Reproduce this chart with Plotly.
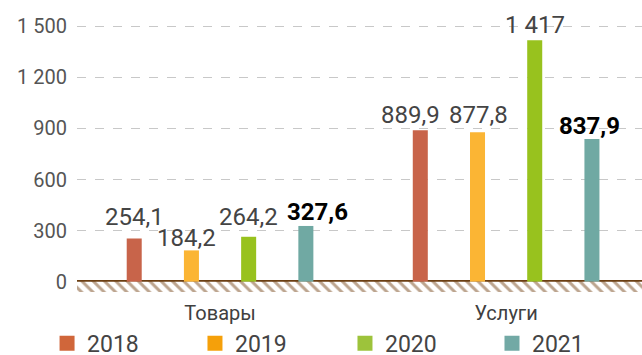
import plotly.graph_objects as go

categories = ["Товары", "Услуги"]
years = ["2018", "2019", "2020", "2021"]
values_2018 = [254.1, 889.9]
values_2019 = [184.2, 877.8]
values_2020 = [264.2, 1417]
values_2021 = [327.6, 837.9]
series = [values_2018, values_2019, values_2020, values_2021]

y_tick_values = [0, 300, 600, 900, 1200, 1500]

bar_colors = ["#C8644A", "#FBB534", "#98C21E", "#70A9A3"]
legend_colors = ["#D0663A", "#F5A00A", "#9DC33B", "#72A9A5"]
legend_x = [-0.053, 0.2088, 0.4743, 0.7345]

# value-label nudges in px (per year, per category) to keep labels apart
label_dx = [[0, -10], [-5, 1], [0, 0], [12, -2]]
label_dy = [[21, 15], [12, 17], [20, 15], [14, 13]]

FONT = "Roboto"
WIDTH, HEIGHT = 642, 355
M_L, M_R, M_T, M_B = 77, 0, 16, 63
X_RANGE = [-0.5, 1.475]
BARGAP = 0.2


def fmt(v):
    # Russian number style: space for thousands, comma for decimals
    if float(v).is_integer():
        return f"{int(v):,}".replace(",", " ")
    return f"{v:,.1f}".replace(",", " ").replace(".", ",")


fig = go.Figure()

# hatched ground strip below the zero line
fig.add_trace(go.Bar(
    x=[0.5], y=[60], base=[-60], width=[1.0],
    xaxis="x2", yaxis="y",
    marker=dict(color="white", line=dict(width=0),
                pattern=dict(shape="\\", fgcolor="#7A4A1E", bgcolor="white",
                             size=8, solidity=0.38)),
    showlegend=False, hoverinfo="skip",
))

for i, (year, vals) in enumerate(zip(years, series)):
    fig.add_trace(go.Bar(
        x=categories, y=vals, name=year,
        marker=dict(color=bar_colors[i], line=dict(width=0)),
        showlegend=False,
    ))

# value labels above each bar of the grouped layout
cat_px = (WIDTH - M_L - M_R) / (X_RANGE[1] - X_RANGE[0])
slot_px = cat_px * (1 - BARGAP) / len(years)
for i, vals in enumerate(series):
    last = i == len(years) - 1
    offset = (i - (len(years) - 1) / 2) * slot_px
    for j, v in enumerate(vals):
        fig.add_annotation(
            x=categories[j], y=v, xref="x", yref="y",
            text=fmt(v), showarrow=False,
            xanchor="center", yanchor="middle",
            xshift=offset + label_dx[i][j], yshift=label_dy[i][j],
            font=dict(family=FONT, size=24,
                      color="#000000" if last else "#444444",
                      weight="bold" if last else "normal"),
        )

# one legend per year so the row keeps fixed spacing
legend_layouts = {}
for i, year in enumerate(years):
    key = "legend" if i == 0 else f"legend{i + 1}"
    fig.add_trace(go.Scatter(
        x=[None], y=[None], mode="markers", name=year, legend=key,
        marker=dict(symbol="square", size=15, color=legend_colors[i]),
    ))
    legend_layouts[key] = dict(
        orientation="h", x=legend_x[i], xanchor="left",
        y=-0.108, yanchor="top",
        font=dict(family=FONT, size=23, color="#444444"),
        itemwidth=30, bgcolor="rgba(0,0,0,0)",
    )

fig.update_layout(
    width=WIDTH, height=HEIGHT,
    margin=dict(l=M_L, r=M_R, t=M_T, b=M_B, autoexpand=False),
    paper_bgcolor="white", plot_bgcolor="white",
    barmode="group", bargap=BARGAP, bargroupgap=0.7375,
    separators=", ",
    font=dict(family=FONT, color="#444444"),
    xaxis=dict(
        type="category", range=X_RANGE,
        showgrid=False, showline=False, zeroline=False,
        ticks="", tickfont=dict(family=FONT, size=20, color="#404040"),
        ticklabelstandoff=7,
    ),
    xaxis2=dict(overlaying="x", range=[0, 1], visible=False),
    yaxis=dict(
        range=[-60, 1560],
        tickvals=y_tick_values, tickformat=",",
        tickfont=dict(family=FONT, size=20, color="#555555"),
        showgrid=True, gridcolor="#C8C8C8", gridwidth=1, griddash="dash",
        zeroline=True, zerolinecolor="#6B3E12", zerolinewidth=2.5,
        showline=False, ticks="", ticklabelstandoff=9,
    ),
    **legend_layouts,
)

fig.write_html("out.html")
